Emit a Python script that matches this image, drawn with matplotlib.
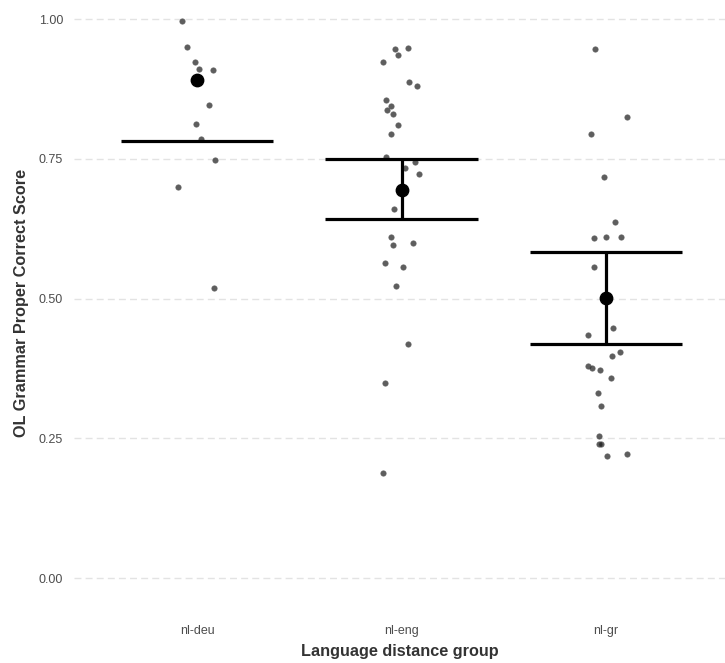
import numpy as np
import matplotlib
matplotlib.use("Agg")
import matplotlib.pyplot as plt

plt.rcParams['font.family'] = ['Liberation Sans', 'DejaVu Sans']

# groups on the x axis
groups = ['nl-deu', 'nl-eng', 'nl-gr']

# individual scores and their horizontal jitter
scores_deu = [0.996, 0.950, 0.923, 0.911, 0.909, 0.846, 0.812, 0.785, 0.747, 0.699, 0.519]
jitter_deu = [-0.075, -0.047, -0.010, 0.008, 0.078, 0.060, -0.003, 0.018, 0.088, -0.091, 0.083]

scores_eng = [0.947, 0.949, 0.935, 0.923, 0.887, 0.881, 0.856, 0.844, 0.838, 0.830,
              0.810, 0.794, 0.754, 0.745, 0.733, 0.723, 0.660, 0.610, 0.596, 0.600,
              0.563, 0.557, 0.523, 0.418, 0.349, 0.188]
jitter_eng = [-0.033, 0.031, -0.018, -0.093, 0.036, 0.075, -0.077, -0.049, -0.072, -0.044,
              -0.016, -0.050, -0.077, 0.068, 0.015, 0.087, -0.038, -0.050, -0.044, 0.054,
              -0.082, 0.005, -0.026, 0.031, -0.082, -0.093]

scores_gr = [0.947, 0.824, 0.794, 0.717, 0.636, 0.608, 0.610, 0.610, 0.556, 0.448,
             0.435, 0.404, 0.397, 0.379, 0.375, 0.373, 0.357, 0.331, 0.308, 0.254,
             0.240, 0.240, 0.219, 0.221]
jitter_gr = [-0.055, 0.101, -0.072, -0.011, 0.043, -0.060, -0.001, 0.075, -0.060, 0.033,
             -0.088, 0.068, 0.031, -0.088, -0.067, -0.029, 0.026, -0.041, -0.023, -0.034,
             -0.034, -0.023, 0.003, 0.101]

# summary: centre point and interval (upper limit of nl-deu falls outside the scale)
centre = [0.891, 0.695, 0.501]
ci_low = [0.781, 0.643, 0.419]
ci_high = [np.nan, 0.750, 0.583]

yticks = [0.00, 0.25, 0.50, 0.75, 1.00]

fig = plt.figure(figsize=(7.25, 6.63), dpi=100)
ax = fig.add_axes([0.1025, 0.086, 0.897, 0.914])

all_scores = [scores_deu, scores_eng, scores_gr]
all_jitter = [jitter_deu, jitter_eng, jitter_gr]
for i, (sc, jt) in enumerate(zip(all_scores, all_jitter)):
    xs = np.array(jt) + i + 1
    ax.scatter(xs, sc, s=15, color='#1a1a1a', alpha=0.7, linewidths=0.6,
               edgecolors='#555555', zorder=3)

cap_half = 0.372
for i in range(len(groups)):
    x = i + 1
    lo, hi = ci_low[i], ci_high[i]
    if np.isfinite(lo) and np.isfinite(hi):
        ax.plot([x, x], [lo, hi], color='black', lw=2.3, zorder=4, solid_capstyle='butt')
    for v in (lo, hi):
        if np.isfinite(v):
            ax.plot([x - cap_half, x + cap_half], [v, v], color='black', lw=2.3,
                    zorder=4, solid_capstyle='butt')
    ax.scatter([x], [centre[i]], s=80, color='black', zorder=5)

ax.set_xlim(0.4, 3.58)
ax.set_ylim(-0.05, 1.034)
ax.set_xticks([1, 2, 3])
ax.set_xticklabels(groups)
ax.set_yticks(yticks)
ax.set_yticklabels(['%.2f' % v for v in yticks])

ax.grid(axis='y', color='#e3e3e3', lw=1.0, linestyle=(0, (5, 3)))
ax.grid(axis='x', visible=False)
ax.set_axisbelow(True)
for sp in ax.spines.values():
    sp.set_visible(False)
ax.tick_params(length=0, labelsize=9, colors='#4d4d4d')
ax.tick_params(axis='y', pad=8)
ax.tick_params(axis='x', pad=14)

ax.set_xlabel('Language distance group', fontsize=11.7, fontweight='bold', color='#333333', labelpad=5)
ax.set_ylabel('OL Grammar Proper Correct Score', fontsize=11.7, fontweight='bold', color='#333333', labelpad=7)

fig.savefig('out.png', dpi=100)
